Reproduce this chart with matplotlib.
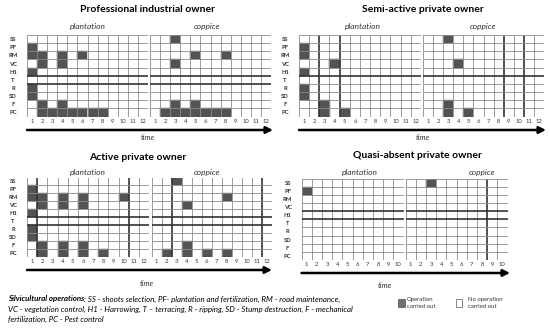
import matplotlib
matplotlib.use("Agg")
import matplotlib.pyplot as plt
from matplotlib.patches import FancyArrowPatch, Rectangle

plt.rcParams['font.family'] = ['Lato', 'DejaVu Sans']

# operations (rows, top to bottom)
rows = ["SS", "PF", "RM", "VC", "H1", "T", "R", "SD", "F", "PC"]

# periods in which each operation is carried out
prof_plant = {"PF": [1], "RM": [1, 2, 4, 6], "VC": [2, 4], "H1": [1], "R": [1], "SD": [1],
              "F": [2, 4], "PC": [2, 3, 4, 5, 6, 7, 8]}
prof_copp = {"SS": [3], "RM": [5, 8], "VC": [3], "F": [3, 5], "PC": [2, 3, 4, 5, 6, 7, 8]}
semi_plant = {"PF": [1], "RM": [1], "VC": [4], "H1": [1], "R": [1], "SD": [1],
              "F": [3], "PC": [3, 5]}
semi_copp = {"SS": [3], "VC": [4], "F": [3], "PC": [3, 5]}
active_plant = {"PF": [1], "RM": [1, 2, 4, 6, 10], "VC": [2, 4, 6], "H1": [1], "R": [1],
                "SD": [1], "F": [2, 4, 6], "PC": [2, 4, 6, 8]}
active_copp = {"SS": [3], "RM": [8], "VC": [4], "F": [4], "PC": [2, 4, 6, 8]}
quasi_plant = {"PF": [1]}
quasi_copp = {"SS": [3]}

owners = ["Professional industrial owner", "Semi-active private owner",
          "Active private owner", "Quasi-absent private owner"]
n_periods = [12, 12, 12, 10]

W, H = 550, 328
fig = plt.figure(figsize=(W / 100, H / 100), dpi=100)

FILL = "#535353"
GRID = "#8c8c8c"
THICK = "#333333"


def fx(x):
    return x / W


def fy(y):
    return 1 - y / H


def grid_axes(x0, x1, y0, y1):
    return fig.add_axes([fx(x0), fy(y1), fx(x1 - x0), (y1 - y0) / H])


def draw_grid(ax, data, n, thick_cols, thick_rows, row_labels):
    ax.set_xlim(0.5, n + 0.5)
    ax.set_ylim(len(rows) + 0.5, 0.5)
    for name, periods in data.items():
        r = rows.index(name) + 1
        ax.bar(periods, 1, bottom=r - 0.5, width=1, color=FILL, edgecolor=FILL,
               linewidth=0.3, zorder=1)
    for i in range(n + 1):
        thick = i in thick_cols
        ax.axvline(i + 0.5, color=THICK if thick else GRID, lw=1.2 if thick else 0.6, zorder=2)
    for j in range(len(rows) + 1):
        thick = j in thick_rows
        ax.axhline(j + 0.5, color=THICK if thick else GRID, lw=1.2 if thick else 0.6, zorder=2)
    for s in ax.spines.values():
        s.set_visible(False)
    ax.set_xticks(range(1, n + 1))
    ax.set_xticklabels([str(i) for i in range(1, n + 1)], fontsize=4.2, color="#333333")
    ax.tick_params(axis='x', length=0, pad=1.5)
    if row_labels:
        ax.set_yticks(range(1, len(rows) + 1))
        ax.set_yticklabels(rows, fontsize=4.2, fontweight='bold', color="#333333")
        ax.tick_params(axis='y', length=0, pad=10)
        for lab in ax.get_yticklabels():
            lab.set_ha('center')
    else:
        ax.set_yticks([])


def text(x, y, s, **kw):
    fig.text(fx(x), fy(y), s, **kw)


def arrow(x0, x1, y):
    fig.add_artist(FancyArrowPatch((fx(x0), fy(y)), (fx(x1), fy(y)), transform=fig.transFigure,
                                   arrowstyle='-|>,head_length=4,head_width=2',
                                   lw=1.8, color='black', shrinkA=0, shrinkB=0))


# panel layout in pixels: plantation x, coppice x, grid top/bottom, title/label/arrow positions
panels = [
    dict(data=(prof_plant, prof_copp), px=(27, 148), cx=(150, 271), gy=(35, 116.5),
         title=(148, 10), lab_y=27, p_lab=88, c_lab=207, arrow=(27, 273, 130), time=(148, 137),
         tc=([], []), tr=[5, 6]),
    dict(data=(semi_plant, semi_copp), px=(299, 421), cx=(423, 544), gy=(35, 116.5),
         title=(423, 10), lab_y=27, p_lab=363, c_lab=483, arrow=(299, 546, 130), time=(423, 137),
         tc=([2, 4], [8, 10]), tr=[5]),
    dict(data=(active_plant, active_copp), px=(27, 149), cx=(151.5, 271.5), gy=(177.5, 257),
         title=(138, 157), lab_y=172, p_lab=88, c_lab=207, arrow=(27, 272, 270), time=(147, 283),
         tc=([1, 10], [2, 11]), tr=[5, 6]),
    dict(data=(quasi_plant, quasi_copp), px=(301.5, 403.5), cx=(405.5, 507.5), gy=(178.5, 260),
         title=(417, 156), lab_y=172, p_lab=360, c_lab=482, arrow=(301.5, 510, 273), time=(385, 285),
         tc=([], [8]), tr=[4, 5]),
]

for k, p in enumerate(panels):
    n = n_periods[k]
    ax_p = grid_axes(p['px'][0], p['px'][1], p['gy'][0], p['gy'][1])
    draw_grid(ax_p, p['data'][0], n, p['tc'][0], p['tr'], True)
    ax_c = grid_axes(p['cx'][0], p['cx'][1], p['gy'][0], p['gy'][1])
    draw_grid(ax_c, p['data'][1], n, p['tc'][1], p['tr'], False)
    text(p['title'][0], p['title'][1], owners[k], fontsize=7.5, fontweight='bold',
         ha='center', va='center')
    text(p['p_lab'], p['lab_y'], "plantation", fontsize=6, style='italic', color="#333333",
         ha='center', va='center')
    text(p['c_lab'], p['lab_y'], "coppice", fontsize=6, style='italic', color="#333333",
         ha='center', va='center')
    arrow(*p['arrow'])
    text(p['time'][0], p['time'][1], "time", fontsize=5.5, style='italic', color="#333333",
         ha='center', va='center')

# caption
cap_lines = [
    ("Silvicultural operations", ": SS - shoots selection, PF- plantation and fertilization, RM - road maintenance,"),
    ("", "VC - vegetation control, H1 - Harrowing, T \u2013 terracing, R - ripping, SD - Stump destruction, F - mechanical"),
    ("", "fertilization, PC - Pest control"),
]
for i, (bold, rest) in enumerate(cap_lines):
    y = 299 + i * 10.2
    if bold:
        t = fig.text(fx(8), fy(y), bold, fontsize=5.7, style='italic', fontweight='bold',
                     ha='left', va='center')
        fig.canvas.draw()
        bb = t.get_window_extent()
        fig.text(bb.x1 / W, fy(y), rest, fontsize=5.7, style='italic', ha='left', va='center')
    else:
        text(8, y, rest, fontsize=5.7, style='italic', ha='left', va='center')

# legend boxes
fig.add_artist(Rectangle((fx(398), fy(306.5)), fx(6.5), 7.5 / H, transform=fig.transFigure,
                         facecolor="#707070", edgecolor="#555555", lw=0.5))
text(407, 299.5, "Operation", fontsize=4.3, color="#333333", ha='left', va='center')
text(407, 306.5, "carried out", fontsize=4.3, color="#333333", ha='left', va='center')
fig.add_artist(Rectangle((fx(455.5), fy(306.5)), fx(6.5), 7.5 / H, transform=fig.transFigure,
                         facecolor="white", edgecolor="#555555", lw=0.5))
text(468, 299.5, "No operation", fontsize=4.3, color="#333333", ha='left', va='center')
text(468, 306.5, "carried out", fontsize=4.3, color="#333333", ha='left', va='center')

fig.savefig("out.png", dpi=100)
